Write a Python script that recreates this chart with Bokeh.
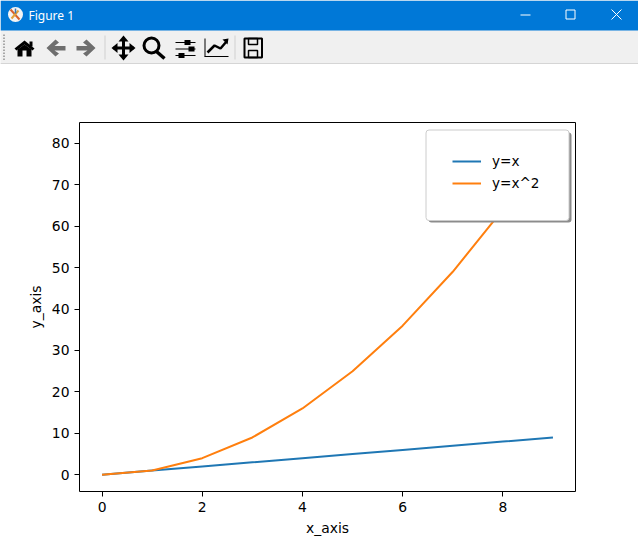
from bokeh.plotting import figure
from bokeh.layouts import column
from bokeh.models import Range1d, Legend, LegendItem, BoxAnnotation, FixedTicker
from bokeh.core.properties import value
from bokeh.embed import file_html
from bokeh.resources import INLINE

x_values = [0, 1, 2, 3, 4, 5, 6, 7, 8, 9]
y_linear = [0, 1, 2, 3, 4, 5, 6, 7, 8, 9]
y_square = [0, 1, 4, 9, 16, 25, 36, 49, 64, 81]
x_ticks = [0, 2, 4, 6, 8]
y_ticks = [0, 10, 20, 30, 40, 50, 60, 70, 80]
label_linear = "y=x"
label_square = "y=x^2"
x_title = "x_axis"
y_title = "y_axis"
window_title = "Figure 1"

W, H, BAR = 638, 541, 64
FONT = "DejaVu Sans"
TXT = "13.9px"

# ---------- window bar: title strip and toolbar, in window pixels ----------
c = figure(width=W, height=BAR, output_backend="svg", toolbar_location=None,
           x_range=Range1d(0, W), y_range=Range1d(BAR, 0), frame_align=False,
           min_border=0, min_border_left=0, min_border_right=0, min_border_top=0, min_border_bottom=0)
c.axis.visible = False
c.grid.visible = False
c.outline_line_color = None
c.background_fill_color = "#f0f0f0"
c.border_fill_color = "#f0f0f0"

def rect(l, t, r, b, color="black", **kw):
    c.quad(left=[l], right=[r], top=[t], bottom=[b], fill_color=color, line_color=None, **kw)

def frame(l, t, r, b, color="black", w=1, fill=None):
    c.quad(left=[l], right=[r], top=[t], bottom=[b], fill_color=fill, line_color=color, line_width=w,
           fill_alpha=1 if fill else 0)

def poly(points, color="black"):
    c.patch([q[0] for q in points], [q[1] for q in points], fill_color=color, line_color=None)

def stroke(points, color="black", w=2):
    c.line([q[0] for q in points], [q[1] for q in points], line_color=color, line_width=w)

rect(0, 0, W, 30, "#0078d7")
rect(0, 63, W, 64, "#b9b9b9")

# application icon
c.scatter([15], [14], size=15, marker="circle", fill_color="#f4f4f4", line_color=None)
stroke([(10, 9), (19, 19)], "#d9622b", 2)
stroke([(11, 18), (18, 10)], "#e3a23a", 2)
stroke([(15, 8), (15, 13)], "#3b78b5", 1.5)

c.text([28], [15], text=[window_title], text_font=value("Noto Sans"), text_font_size="12px",
       text_color="white", text_baseline="middle", text_align="left")

# window buttons
rect(520, 14, 530, 15, "white")
frame(565.5, 9.5, 574.5, 18.5, "white", 1)
stroke([(611, 9), (621, 19)], "white", 1)
stroke([(611, 19), (621, 9)], "white", 1)

# grip and separators
c.segment([3.5] * 9, [34 + 3 * i for i in range(9)], [3.5] * 9, [35.5 + 3 * i for i in range(9)],
          line_color="#a8a8a8", line_width=2)
rect(104, 35, 105, 59, "#cfcfcf")
rect(234, 35, 235, 59, "#cfcfcf")

# home
poly([(14, 48), (24, 40), (34, 48), (32, 50), (24, 44), (16, 50)])
poly([(17, 49), (24, 44), (31, 49), (31, 56), (26, 56), (26, 50), (22, 50), (22, 56), (17, 56)])
rect(29, 41, 32, 46)

# back / forward
back = [(46, 47.5), (55, 39), (58.5, 42), (54, 45.5), (65, 45.5), (65, 50), (54, 50), (58.5, 53), (55, 56)]
poly(back, "#6e6e6e")
poly([(141 - q[0], q[1]) for q in back], "#6e6e6e")

# move
stroke([(113, 47.5), (133, 47.5)], "black", 3)
stroke([(123, 37), (123, 58)], "black", 3)
for tip in ([(123, 35), (118, 41), (128, 41)], [(123, 60), (118, 54), (128, 54)],
            [(111, 47.5), (117, 42.5), (117, 52.5)], [(135, 47.5), (129, 42.5), (129, 52.5)]):
    poly(tip)

# zoom
c.scatter([151], [45], size=15, marker="circle", fill_alpha=0, line_color="black", line_width=3)
stroke([(156, 51), (164, 58)], "black", 3.5)

# configure
for yy, cx in ((42, 187), (48.5, 191), (55, 181)):
    rect(175, yy - 0.5, 195, yy + 0.5)
    rect(cx - 3, yy - 2.5, cx + 3, yy + 2.5)

# edit
rect(204, 55.5, 228, 56.5)
rect(204, 38, 205, 56)
stroke([(207, 52), (214, 45), (220, 48), (226, 41)], "black", 2.5)
poly([(228, 38), (222, 39), (227, 44)])

# save
frame(244, 38, 261.5, 57, "black", 2)
frame(248, 38, 257, 44, "black", 1.5)
frame(248, 50, 257, 57, "black", 1.5)

# ---------- the chart ----------
p = figure(width=W, height=H - BAR, output_backend="svg", toolbar_location=None,
           x_range=Range1d(-0.45, 9.45), y_range=Range1d(-4.05, 85.05), frame_align=False,
           min_border_left=79, min_border_right=63, min_border_top=122 - BAR, min_border_bottom=50)
p.grid.visible = False
p.outline_line_color = "black"
p.outline_line_width = 1
p.background_fill_color = "white"
p.border_fill_color = "white"

for ax, ticks, title in ((p.xaxis[0], x_ticks, x_title), (p.yaxis[0], y_ticks, y_title)):
    ax.ticker = FixedTicker(ticks=ticks)
    ax.axis_label = title
    ax.axis_label_text_font = FONT
    ax.axis_label_text_font_size = TXT
    ax.axis_label_text_font_style = "normal"
    ax.axis_label_text_color = "black"
    ax.major_label_text_font = FONT
    ax.major_label_text_font_size = TXT
    ax.major_label_text_color = "black"
    ax.axis_line_color = None
    ax.major_tick_line_color = "black"
    ax.major_tick_out = 5
    ax.major_tick_in = 0
    ax.minor_tick_line_color = None
p.yaxis[0].major_label_orientation = "horizontal"

r1 = p.line(x_values, y_linear, line_color="#1f77b4", line_width=2)
r2 = p.line(x_values, y_square, line_color="#ff7f0e", line_width=2)

def box(l, t, r, b, **kw):
    p.add_layout(BoxAnnotation(left=l, right=r, top=t - BAR, bottom=b - BAR,
                               left_units="canvas", right_units="canvas", top_units="canvas", bottom_units="canvas",
                               level="annotation", editable=False, **kw))

# legend frame with shadow
box(428, 132, 571, 222, fill_color="#8c8c8c", fill_alpha=1, line_color=None, border_radius=3)
box(425.5, 129.5, 568.5, 220, fill_color="white", fill_alpha=1, line_color="#cccccc", line_alpha=1, line_width=1, border_radius=3)

legend = Legend(items=[LegendItem(label=label_linear, renderers=[r1]),
                       LegendItem(label=label_square, renderers=[r2])],
                location=(365, 292), background_fill_alpha=0, border_line_alpha=0,
                label_text_font=FONT, label_text_font_size="13.6px", label_text_color="black",
                glyph_width=29, glyph_height=16, label_height=16, spacing=6, padding=8, margin=0,
                label_standoff=11, click_policy="none")
p.add_layout(legend, "center")

page = column(c, p, spacing=0)
open("out.html", "w").write(file_html(page, INLINE))
